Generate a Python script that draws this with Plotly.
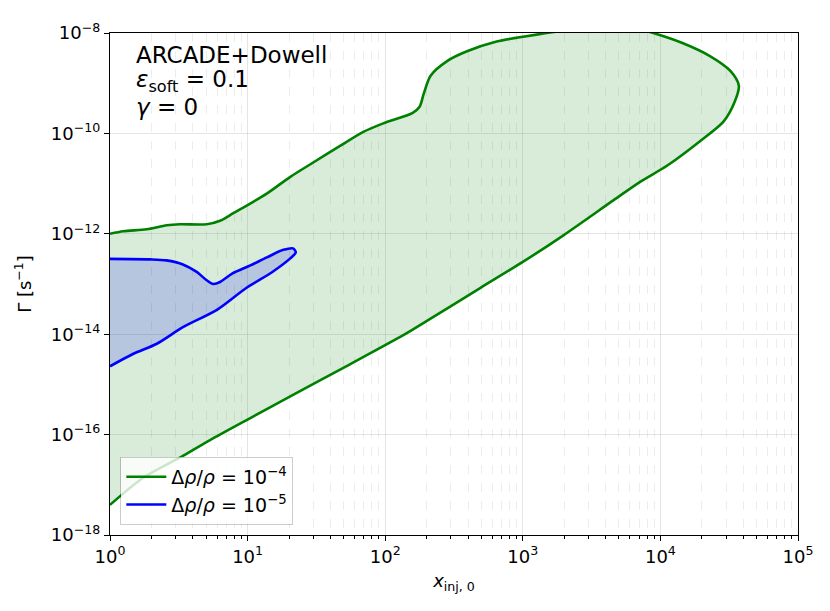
import numpy as np
import plotly.graph_objects as go

# contour of Delta rho / rho = 1e-4 (log10 x_inj,0 , log10 Gamma)
green_logx = [0.0, 0.097, 0.267, 0.412, 0.509, 0.703, 0.80, 0.896, 1.139, 1.308,
              1.477, 1.672, 1.841, 1.986, 2.20, 2.25, 2.28, 2.33, 2.45, 2.59,
              2.81, 3.15, 3.40, 3.65, 3.85, 3.96, 4.16, 4.36, 4.51, 4.57,
              4.54, 4.46, 4.29, 4.05, 3.85, 3.66, 3.29, 3.00, 2.69, 2.30,
              2.144, 1.696, 1.357, 0.993, 0.727, 0.533, 0.242, 0.0]
green_logy = [-12.00, -11.95, -11.91, -11.83, -11.81, -11.81, -11.74, -11.59, -11.20, -10.87,
              -10.58, -10.25, -9.97, -9.80, -9.59, -9.47, -9.21, -8.85, -8.56, -8.37,
              -8.17, -8.01, -7.92, -7.88, -7.93, -8.01, -8.20, -8.46, -8.76, -9.05,
              -9.37, -9.76, -10.15, -10.64, -10.97, -11.33, -12.04, -12.56, -13.08, -13.74,
              -14.00, -14.67, -15.17, -15.71, -16.11, -16.42, -16.86, -17.40]

# contour of Delta rho / rho = 1e-5
blue_logx = [0.0, 0.29, 0.41, 0.53, 0.63, 0.70, 0.75, 0.80, 0.89, 1.02,
             1.14, 1.26, 1.33, 1.35, 1.31, 1.18, 0.99, 0.78, 0.53, 0.34,
             0.17, 0.0]
blue_logy = [-12.50, -12.51, -12.53, -12.61, -12.76, -12.92, -13.00, -12.96, -12.79, -12.63,
             -12.47, -12.32, -12.29, -12.37, -12.49, -12.76, -13.08, -13.51, -13.86, -14.19,
             -14.39, -14.64]

names = ["Δ<i>ρ</i>/<i>ρ</i> = 10<sup>−4</sup>", "Δ<i>ρ</i>/<i>ρ</i> = 10<sup>−5</sup>"]

x_ticks = [1, 10, 100, 1e3, 1e4, 1e5]
x_labels = ["10<sup>0</sup>", "10<sup>1</sup>", "10<sup>2</sup>", "10<sup>3</sup>", "10<sup>4</sup>", "10<sup>5</sup>"]
y_ticks = [1e-18, 1e-16, 1e-14, 1e-12, 1e-10, 1e-8]
y_labels = ["10<sup>−18</sup>", "10<sup>−16</sup>", "10<sup>−14</sup>", "10<sup>−12</sup>",
            "10<sup>−10</sup>", "10<sup>−8</sup>"]

FONT = "DejaVu Sans"

gx, gy = 10 ** np.array(green_logx), 10 ** np.array(green_logy)
bx, by = 10 ** np.array(blue_logx), 10 ** np.array(blue_logy)

fig = go.Figure()
# filled regions (no legend)
fig.add_trace(go.Scatter(x=gx, y=gy, fill="toself", fillcolor="rgba(0,128,0,0.15)",
                         line=dict(width=0, shape="spline", smoothing=0.8), mode="lines",
                         showlegend=False, hoverinfo="skip"))
fig.add_trace(go.Scatter(x=bx, y=by, fill="toself", fillcolor="rgba(0,0,255,0.16)",
                         line=dict(width=0, shape="spline", smoothing=0.8), mode="lines",
                         showlegend=False, hoverinfo="skip"))
# contour lines
fig.add_trace(go.Scatter(x=gx, y=gy, mode="lines", name=names[0],
                         line=dict(color="green", width=2.6, shape="spline", smoothing=0.8)))
fig.add_trace(go.Scatter(x=bx, y=by, mode="lines", name=names[1],
                         line=dict(color="blue", width=2.6, shape="spline", smoothing=0.8)))

minor_x = [k * 10 ** d for d in range(5) for k in range(2, 10)]

fig.update_xaxes(
    type="log", range=[0, 5],
    tickmode="array", tickvals=x_ticks, ticktext=x_labels,
    ticks="outside", ticklen=5, tickcolor="black",
    showline=True, linecolor="black", linewidth=1.3, mirror=True,
    showgrid=True, gridcolor="rgba(0,0,0,0.10)", gridwidth=1,
    zeroline=False,
    tickfont=dict(family=FONT, size=18, color="black"),
    minor=dict(tickmode="array", tickvals=minor_x, ticks="outside", ticklen=3,
               tickcolor="black", showgrid=True, gridcolor="rgba(0,0,0,0.07)",
               griddash="dash", gridwidth=1),
    title=dict(text="<i>x</i><sub>inj, 0</sub>", font=dict(family=FONT, size=18, color="black"),
               standoff=8),
)
fig.update_yaxes(
    type="log", range=[-18, -8],
    tickmode="array", tickvals=y_ticks, ticktext=y_labels,
    ticks="outside", ticklen=5, tickcolor="black",
    showline=True, linecolor="black", linewidth=1.3, mirror=True,
    showgrid=True, gridcolor="rgba(0,0,0,0.10)", gridwidth=1,
    zeroline=False,
    tickfont=dict(family=FONT, size=18, color="black"),
    title=dict(text="Γ [s<sup>−1</sup>]", font=dict(family=FONT, size=18, color="black"),
               standoff=14),
)

# label in the upper left corner
info_lines = ["ARCADE+Dowell", "<i>ε</i><sub>soft</sub> = 0.1", "<i>γ</i> = 0"]
info_y = [0.957, 0.905, 0.853]
for txt, yy in zip(info_lines, info_y):
    fig.add_annotation(text=txt, xref="paper", yref="paper", x=0.035, y=yy,
                       xanchor="left", yanchor="middle", showarrow=False,
                       font=dict(family=FONT, size=23, color="black"))

# the page body adds an 8 px margin, so the figure is a bit smaller than the window
fig.update_layout(
    width=822, height=603,
    margin=dict(l=102, r=32, t=14, b=76),
    plot_bgcolor="white", paper_bgcolor="white",
    font=dict(family=FONT, color="black"),
    legend=dict(x=0.015, y=0.02, xanchor="left", yanchor="bottom",
                bgcolor="rgba(255,255,255,0.8)", bordercolor="rgba(0,0,0,0.2)", borderwidth=1,
                font=dict(family=FONT, size=19, color="black"), itemwidth=40),
)

fig.write_html("out.html")
